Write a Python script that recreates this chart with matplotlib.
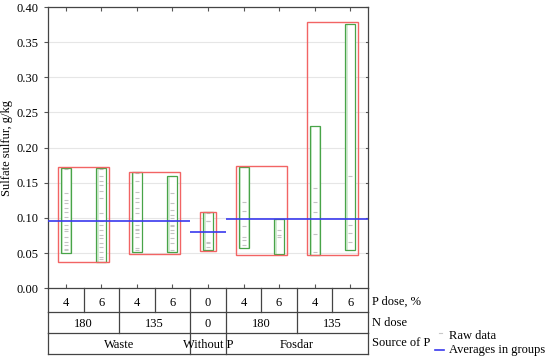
import matplotlib
matplotlib.use("Agg")
import matplotlib.pyplot as plt
from matplotlib.patches import Rectangle
from matplotlib.transforms import blended_transform_factory

plt.rcParams['font.family'] = ['Liberation Serif', 'DejaVu Serif']
plt.rcParams['font.size'] = 9

# Data
p_dose = ['4', '6', '4', '6', '0', '4', '6', '4', '6']
n_dose = ['180', '135', '0', '180', '135']
n_span = [(0, 2), (2, 4), (4, 5), (5, 7), (7, 9)]
source = ['Waste', 'Without P', 'Fosdar']
source_span = [(0, 4), (4, 5), (5, 9)]

grp_min = [0.050, 0.038, 0.051, 0.051, 0.0545, 0.058, 0.049, 0.048, 0.0545]
grp_max = [0.171, 0.171, 0.165, 0.160, 0.108, 0.173, 0.099, 0.231, 0.376]

pair_min = [0.037, 0.049, 0.053, 0.048, 0.047]
pair_max = [0.172, 0.166, 0.109, 0.174, 0.378]

source_mean = [0.096, 0.080, 0.098]

raw = [
    [0.169, 0.136, 0.126, 0.121, 0.114, 0.109, 0.102, 0.090, 0.085, 0.081, 0.073, 0.066, 0.062, 0.056, 0.054],
    [0.169, 0.159, 0.152, 0.147, 0.138, 0.128, 0.107, 0.095, 0.090, 0.083, 0.076, 0.071, 0.064, 0.059, 0.052, 0.045, 0.041],
    [0.164, 0.152, 0.137, 0.128, 0.123, 0.114, 0.107, 0.095, 0.090, 0.085, 0.083, 0.078, 0.073, 0.057, 0.0545],
    [0.160, 0.135, 0.121, 0.111, 0.104, 0.0997, 0.095, 0.090, 0.088, 0.083, 0.078, 0.071, 0.064, 0.0545],
    [0.107, 0.096, 0.095, 0.066, 0.064, 0.059],
    [0.172, 0.123, 0.110, 0.088, 0.073, 0.069, 0.062],
    [0.083, 0.076, 0.073],
    [0.142, 0.123, 0.109, 0.077, 0.052],
    [0.159, 0.090, 0.078, 0.066],
]

fig = plt.figure(figsize=(5.5, 3.63), dpi=100)
ax = fig.add_axes([48/550, 1-288.3/363, (368-48)/550, 281.3/363])
ax.set_xlim(0, 9)
ax.set_ylim(0, 0.40)
ax.set_yticks([i*0.05 for i in range(9)])
ax.set_yticklabels([f"{i*0.05:.2f}" for i in range(9)])
ax.yaxis.grid(True, color='#e6e6e6', lw=0.8)
ax.set_axisbelow(True)
centers = [i + 0.5 for i in range(9)]
ax.set_xticks(centers)
ax.set_xticklabels([])
ax.tick_params(axis='x', direction='in', top=True, bottom=True, length=3, color='#555555')
ax.tick_params(axis='y', direction='out', left=True, right=False, length=3, color='#555555')
for s in ax.spines.values():
    s.set_color('#444444')
    s.set_linewidth(0.9)
# right ticks pointing inward
for yv in [i*0.05 for i in range(1, 9)]:
    ax.plot([8.93, 9.0], [yv, yv], color='#555555', lw=0.8, clip_on=False)

ax.set_ylabel('Sulfate sulfur, g/kg', fontsize=9)
ax.yaxis.set_label_coords(-0.11, 0.5)

# green boxes: light band on left, white inside
for i in range(9):
    ax.add_patch(Rectangle((centers[i]-0.14, grp_min[i]), 0.28, grp_max[i]-grp_min[i],
                           facecolor='#d4ebd4', edgecolor='none', zorder=1.5))
    ax.add_patch(Rectangle((centers[i]-0.07, grp_min[i]), 0.2, grp_max[i]-grp_min[i],
                           facecolor='white', edgecolor='none', zorder=1.6))
    ax.add_patch(Rectangle((centers[i]-0.14, grp_min[i]), 0.28, grp_max[i]-grp_min[i],
                           facecolor='none', edgecolor='#48a448', lw=0.9, zorder=3))

# raw data
for i, vals in enumerate(raw):
    ax.plot([centers[i]]*len(vals), vals, linestyle='none', marker='_', ms=2.5,
            color='#c4c4c4', mew=0.8, zorder=2.5)

# red boxes
for k, (a, b) in enumerate(n_span):
    x0 = a + 0.5 - 0.215
    x1 = b - 0.5 + 0.215
    ax.add_patch(Rectangle((x0, pair_min[k]), x1-x0, pair_max[k]-pair_min[k],
                           facecolor='none', edgecolor='#f26464', lw=1.0, zorder=3.5))

# blue averages
for k, (a, b) in enumerate(source_span):
    ax.plot([a, b], [source_mean[k]]*2, color='#3a3aee', lw=1.2, zorder=4, solid_capstyle='butt')

# table
tr = blended_transform_factory(ax.transData, ax.transAxes)
lc = '#444444'
r1, r2, r3 = -0.0853, -0.1585, -0.2332
kw = dict(color=lc, lw=0.9, transform=tr, clip_on=False)
for y in [r1, r2, r3]:
    ax.plot([0, 9], [y, y], **kw)
for x in range(10):
    ax.plot([x, x], [0, r1], **kw)
edges2 = sorted(set([a for a, b in n_span] + [9]))
for x in edges2:
    ax.plot([x, x], [r1, r2], **kw)
edges3 = sorted(set([a for a, b in source_span] + [9]))
for x in edges3:
    ax.plot([x, x], [r2, r3], **kw)

for i, t in enumerate(p_dose):
    ax.text(centers[i], r1/2 - 0.008, t, ha='center', va='center', transform=tr, fontsize=9)
for (a, b), t in zip(n_span, n_dose):
    ax.text((a+b)/2, (r1+r2)/2 - 0.005, t, ha='center', va='center', transform=tr, fontsize=9)
for (a, b), t in zip(source_span, source):
    ax.text((a+b)/2, (r2+r3)/2 - 0.005, t, ha='center', va='center', transform=tr, fontsize=9)

# right labels
fx = 372/550
fig.text(fx, 1-302/363, 'P dose, %', ha='left', va='center', fontsize=9)
fig.text(fx, 1-323/363, 'N dose', ha='left', va='center', fontsize=9)
fig.text(fx, 1-343/363, 'Source of P', ha='left', va='center', fontsize=9)

# legend
fig.text(449/550, 1-336/363, 'Raw data', ha='left', va='center', fontsize=9)
fig.text(449/550, 1-350/363, 'Averages in groups', ha='left', va='center', fontsize=9)
fig.add_artist(plt.Line2D([439/550, 442/550], [1-333/363, 1-333/363], color='#c8c8c8', lw=0.8))
fig.add_artist(plt.Line2D([435/550, 444/550], [1-350/363, 1-350/363], color='#3a3aee', lw=1.2))

fig.savefig('out.png', dpi=100)
